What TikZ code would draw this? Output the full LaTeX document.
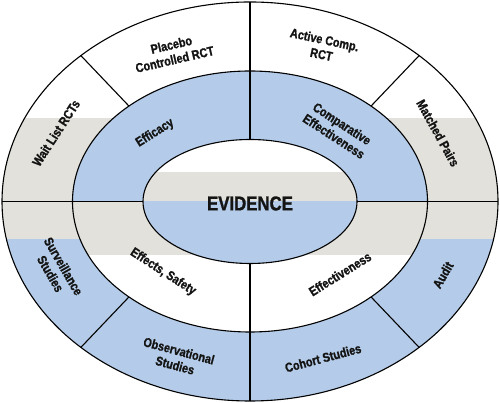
\documentclass[tikz,border=0pt]{standalone}
\usepackage{fontspec}
\newfontfamily\lblfont{Liberation Sans}[FakeStretch=0.84, UprightFont={* Bold}, FakeBold=1.2]
\usetikzlibrary{calc}
\definecolor{bandblue}{RGB}{180,204,233}
\definecolor{bandgray}{RGB}{226,225,219}
\definecolor{txt}{RGB}{20,20,20}
\begin{document}
\begin{tikzpicture}[x=1pt,y=1pt,
  ln/.style={line width=1.1pt,black},
  lbl/.style={font=\lblfont\fontsize{13}{15}\selectfont, align=center, text=txt, inner sep=0pt},
  big/.style={font=\lblfont\fontsize{20}{24}\selectfont, text=txt, inner sep=0pt}]
\useasboundingbox (0,0) rectangle (500,403);
\coordinate (C) at (250,201.5);
% outer ring bands
\begin{scope}
\clip (C) ellipse [x radius=248pt, y radius=199.5pt];
\fill[white] (0,0) rectangle (500,403);
\fill[bandgray] (0,164) rectangle (500,285);
\fill[bandblue] (0,0) rectangle (500,164);
\end{scope}
% middle ring bands
\begin{scope}
\clip (C) ellipse [x radius=177.5pt, y radius=130.5pt];
\fill[bandblue] (0,201.5) rectangle (500,403);
\fill[bandgray] (0,148) rectangle (500,201.5);
\fill[white] (0,0) rectangle (500,148);
\end{scope}
% inner ellipse bands
\begin{scope}
\clip (C) ellipse [x radius=107pt, y radius=62pt];
\fill[white] (0,231) rectangle (500,403);
\fill[bandgray] (0,201.5) rectangle (500,231);
\fill[bandblue] (0,0) rectangle (500,201.5);
\end{scope}
% key points
\path (C) ++(90:248pt and 199.5pt) coordinate (otop);
\path (C) ++(270:248pt and 199.5pt) coordinate (obot);
\path (C) ++(180:248pt and 199.5pt) coordinate (oleft);
\path (C) ++(0:248pt and 199.5pt) coordinate (oright);
\path (C) ++(90:107pt and 62pt) coordinate (itop);
\path (C) ++(270:107pt and 62pt) coordinate (ibot);
\path (C) ++(180:107pt and 62pt) coordinate (ileft);
\path (C) ++(0:107pt and 62pt) coordinate (iright);
\foreach \a/\n in {133/ul,47/ur,227/ll,313/lr}{
  \path (C) ++(\a:248pt and 199.5pt) coordinate (o\n);
  \path (C) ++(\a:177.5pt and 130.5pt) coordinate (m\n);
}
% outlines
\draw[ln] (C) ellipse [x radius=248pt, y radius=199.5pt];
\draw[ln] (C) ellipse [x radius=177.5pt, y radius=130.5pt];
\draw[ln] (C) ellipse [x radius=107pt, y radius=62pt];
\draw[ln] (otop) -- (itop);
\draw[ln] (ibot) -- (obot);
\draw[ln] (oleft) -- (ileft);
\draw[ln] (iright) -- (oright);
\draw[ln] (oul) -- (mul);
\draw[ln] (our) -- (mur);
\draw[ln] (oll) -- (mll);
\draw[ln] (olr) -- (mlr);
% labels
\node[lbl, rotate=13] (placebo) at (173,351) {Placebo\\Controlled RCT};
\node[lbl, rotate=-12] (active) at (323,356) {Active Comp.\\RCT};
\node[lbl, rotate=57] (wait) at (56,270) {Wait List RCTs};
\node[lbl, rotate=-61] (matched) at (438,270) {Matched Pairs};
\node[lbl, rotate=32] (efficacy) at (155,270) {Efficacy};
\node[lbl, rotate=-33] (compeff) at (338,273) {Comparative\\Effectiveness};
\node[lbl, rotate=-33] (effects) at (163,131) {Effects, Safety};
\node[lbl, rotate=32] (effness) at (340,129) {Effectiveness};
\node[lbl, rotate=-60] (surv) at (57,133) {Surveillance\\Studies};
\node[lbl, rotate=60] (audit) at (443,128) {Audit};
\node[lbl, rotate=-15] (obs) at (177,45) {Observational\\Studies};
\node[lbl, rotate=15] (cohort) at (323,45) {Cohort Studies};
\node[big] (evidence) at (250,199.5) {EVIDENCE};
\end{tikzpicture}
\end{document}
